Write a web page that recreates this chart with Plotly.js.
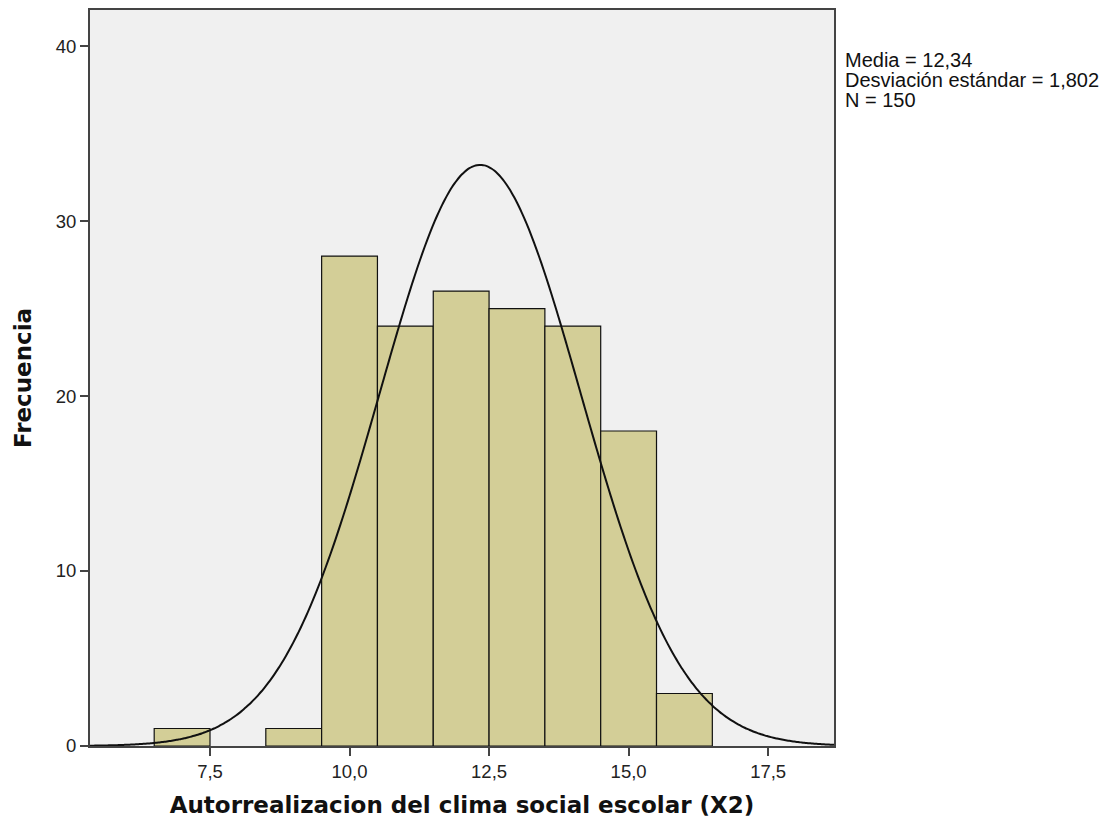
<!DOCTYPE html>
<html>
<head>
<meta charset="utf-8">
<script src="https://cdn.plot.ly/plotly-3.0.1.min.js"></script>
<style>html,body{margin:0;padding:0;background:#fff;}#chart{width:1102px;height:832px;}</style>
</head>
<body>
<div id="chart"></div>
<script>
// Histogram data (bin centers, width 1)
const binCenters = [7, 9, 10, 11, 12, 13, 14, 15, 16];
const frequencies = [1, 1, 28, 24, 26, 25, 24, 18, 3];
const xTicks = [7.5, 10.0, 12.5, 15.0, 17.5];
const yTicks = [0, 10, 20, 30, 40];
const mean = 12.34;
const sd = 1.802;
const n = 150;
const binWidth = 1;
const statLines = ["Media = 12,34", "Desviación estándar = 1,802", "N = 150"];
const xTitle = "Autorrealizacion del clima social escolar (X2)";
const yTitle = "Frecuencia";

// Normal curve from the stated mean, sd, N
const xRange = [5.35, 18.68];
const curveX = [], curveY = [];
for (let i = 0; i <= 300; i++) {
  const x = xRange[0] + (xRange[1] - xRange[0]) * i / 300;
  curveX.push(x);
  curveY.push(n * binWidth / (sd * Math.sqrt(2 * Math.PI)) * Math.exp(-0.5 * Math.pow((x - mean) / sd, 2)));
}

const bars = {
  type: 'bar', x: binCenters, y: frequencies, width: binWidth,
  marker: {color: '#D3CE97', line: {color: '#111', width: 1.2}},
  hoverinfo: 'x+y', showlegend: false
};
const curve = {
  type: 'scatter', mode: 'lines', x: curveX, y: curveY,
  line: {color: '#111', width: 2, shape: 'spline'},
  hoverinfo: 'skip', showlegend: false
};

const tickFont = {size: 18.5, color: '#222', family: 'Liberation Sans, Arial, sans-serif'};
const titleFont = {size: 23, family: 'DejaVu Sans, Arial, sans-serif', color: '#111', weight: 'bold'};

const statAnn = statLines.map((t, i) => ({
  xref: 'paper', yref: 'paper', x: 1, y: 1, xanchor: 'left', yanchor: 'middle',
  xshift: 9, yshift: -50 - 20 * i, align: 'left', showarrow: false, text: t,
  font: {size: 20, color: '#111', family: 'Liberation Sans, Arial, sans-serif'}
}));

const layout = {
  width: 1102, height: 832,
  margin: {l: 90, r: 268, t: 10, b: 86},
  paper_bgcolor: '#fff', plot_bgcolor: '#F0F0F0',
  separators: ',.',
  font: {family: 'Liberation Sans, Arial, sans-serif', size: 14, color: '#222'},
  bargap: 0,
  xaxis: {
    range: xRange, tickvals: xTicks, tickformat: '.1f',
    showgrid: false, zeroline: false,
    showline: true, linecolor: '#444', linewidth: 2, mirror: true,
    ticks: 'outside', ticklen: 8, tickwidth: 2, tickcolor: '#444',
    tickfont: tickFont,
    title: {text: xTitle, font: titleFont, standoff: 16}
  },
  yaxis: {
    range: [0, 42.06], tickvals: yTicks,
    showgrid: false, zeroline: false,
    showline: true, linecolor: '#444', linewidth: 2, mirror: true,
    ticks: 'outside', ticklen: 8, tickwidth: 2, tickcolor: '#444',
    tickfont: tickFont,
    title: {text: yTitle, font: titleFont, standoff: 18}
  },
  annotations: statAnn
};

Plotly.newPlot('chart', [bars, curve], layout, {displayModeBar: false, staticPlot: true});
</script>
</body>
</html>
